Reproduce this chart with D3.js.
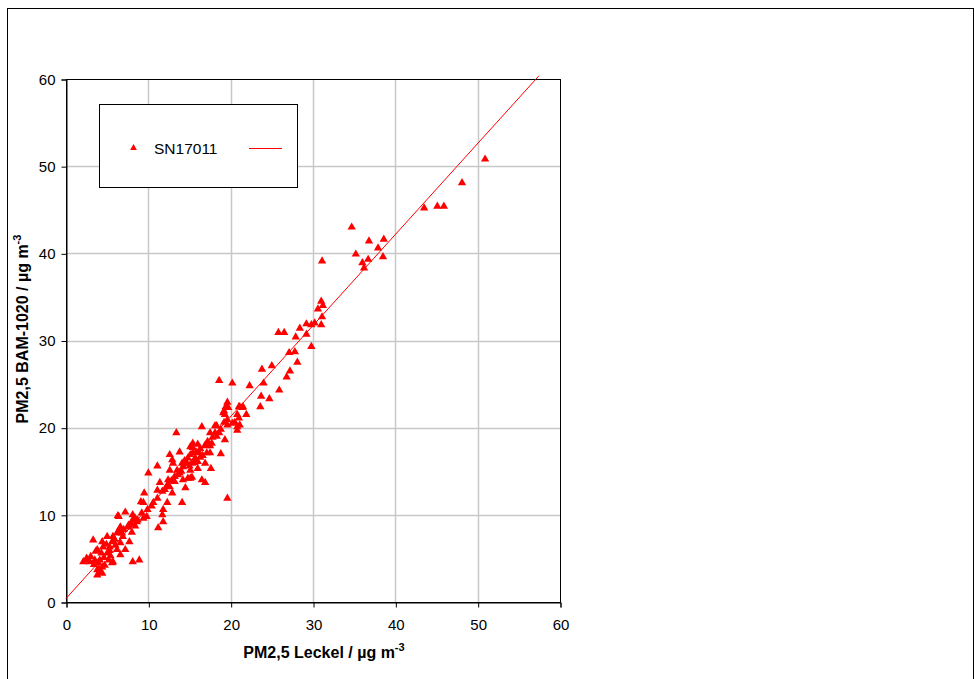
<!DOCTYPE html>
<html><head><meta charset="utf-8">
<script src="https://cdn.jsdelivr.net/npm/d3@7"></script>
<style>body{margin:0;background:#fff;}svg{display:block;font-family:"Liberation Sans",Arial,sans-serif;}</style>
</head><body>
<svg id="chart" width="974" height="679"></svg>
<script>
const seriesName = "SN17011";
const xTicks = [0,10,20,30,40,50,60];
const yTicks = [0,10,20,30,40,50,60];
const trendSlope = 1.044;
const trendIntercept = 0.4;
const trendXRange = [0, 57.45];
const xLabel = "PM2,5 Leckel / µg m";
const yLabel = "PM2,5 BAM-1020 / µg m";
const unitSup = "-3";
const leckel = [
50.9,48.1,45.9,45.1,43.5,34.7,36.8,38.6,35.2,37.9,36.0,36.7,36.2,38.5,31.1,
25.8,26.5,28.4,29.2,30.2,29.8,31.0,31.1,30.6,31.0,31.2,29.2,27.9,29.8,27.1,27.8,28.1,27.2,26.8,23.8,25.0,25.9,24.0,22.3,23.7,24.7,23.6,21.1,21.5,20.2,18.6,
19.6,19.4,19.2,19.1,19.3,21.0,21.4,20.8,21.0,20.5,19.6,19.2,19.6,18.1,16.5,20.8,21.1,19.7,20.2,20.8,18.3,18.8,18.1,18.6,17.5,19.3,13.4,17.2,17.7,17.5,16.9,16.0,15.4,15.1,15.4,16.3,13.8,17.5,17.1,18.8,15.4,15.1,14.8,15.7,16.3,14.7,15.3,16.0,16.9,12.6,12.9,13.0,14.1,14.2,13.5,15.1,16.0,17.6,11.1,12.6,15.1,15.3,14.8,14.2,16.5,16.9,13.2,12.4,12.3,11.4,12.6,14.5,11.1,11.7,12.9,19.6,21.9,
10.0,9.5,9.1,9.4,7.2,6.4,8.1,8.4,9.4,8.6,11.8,11.2,6.6,12.3,11.8,11.7,14.1,11.1,10.6,
6.3,9.2,8.1,8.7,9.8,6.6,7.5,6.2,8.0,5.0,5.7,6.9,3.3,4.4,5.6,7.7,6.6,3.8,4.5,5.3,6.2,7.2,5.0,4.3,6.6,2.6,2.1,2.9,3.5,4.1,5.2,5.7,4.7,4.4,3.8,5.6,8.1,8.9,3.8,4.1,
2.5,3.0,3.4,3.9,4.6,5.4,6.0,6.8,7.0,5.9,4.9,3.6,4.0,4.4,6.4,7.9,8.4,5.3,
13.8,14.0,15.6,16.2,16.6,17.0,15.8,14.4,13.2,12.8,17.8,18.3,15.0,10.4,9.9,7.6,12.0,13.6
];
const bam = [
50.8,48.1,45.4,45.4,45.2,43.0,41.4,41.6,39.9,40.6,38.9,39.3,38.3,39.6,39.1,
30.9,30.9,31.4,31.9,32.0,31.8,31.8,32.7,33.6,34.5,34.0,30.7,30.4,29.3,28.6,28.7,27.5,26.5,25.8,26.7,27.1,24.3,25.1,24.8,23.6,23.3,22.4,22.4,22.4,25.1,25.4,
22.9,22.4,21.9,21.7,21.5,22.4,22.3,21.5,21.1,20.6,20.9,20.6,20.3,20.2,20.1,20.1,20.3,22.3,20.5,19.7,20.2,19.8,19.4,19.4,19.4,18.6,19.4,18.4,18.2,17.9,18.0,18.1,18.2,17.8,17.7,17.6,17.2,17.1,17.1,17.0,17.1,16.9,16.5,16.5,16.6,15.9,15.9,16.1,15.9,16.9,16.3,15.9,15.9,15.5,15.1,15.1,15.3,15.3,15.6,15.1,14.2,14.3,14.2,14.0,14.0,13.7,13.8,14.0,13.4,13.7,13.2,13.1,12.8,12.7,12.5,11.9,21.5,
14.8,12.5,11.5,11.4,10.3,9.8,10.0,9.6,9.6,9.2,9.2,8.5,8.5,11.4,10.6,10.0,11.4,11.9,11.4,
9.9,10.2,9.4,9.4,9.8,8.6,8.6,7.9,8.0,7.5,7.5,7.5,7.1,6.9,6.9,6.9,6.8,6.0,6.3,6.3,6.0,6.0,5.6,5.6,5.4,4.8,4.6,4.6,4.8,4.8,4.8,4.6,4.2,4.0,3.7,4.5,4.6,4.8,3.1,3.4,
5.0,5.2,4.3,4.5,5.1,5.3,6.5,7.9,8.3,7.2,6.6,5.8,3.8,3.3,8.2,9.0,8.7,5.9,
14.8,15.0,16.0,17.1,16.8,17.9,17.2,16.2,14.4,13.9,18.9,19.0,15.6,11.0,10.6,8.8,12.9,14.6
];

const svg = d3.select("#chart");
// outer frame
svg.append("rect").attr("x",7.5).attr("y",8.5).attr("width",966).attr("height",680)
  .attr("fill","#fff").attr("stroke","#000").attr("stroke-width",1);

const m = {left:66, top:79, right:560, bottom:602};
const x = d3.scaleLinear().domain([0,60]).range([m.left, m.right]);
const y = d3.scaleLinear().domain([0,60]).range([m.bottom, m.top]);

// gridlines
const g = svg.append("g");
g.selectAll("line.vg").data(xTicks.slice(1,-1)).join("line")
  .attr("x1",d=>Math.round(x(d))+0.5).attr("x2",d=>Math.round(x(d))+0.5)
  .attr("y1",m.top).attr("y2",m.bottom).attr("stroke","#c8c8c8").attr("stroke-width",1.5);
g.selectAll("line.hg").data(yTicks.slice(1,-1)).join("line")
  .attr("y1",d=>Math.round(y(d))+0.5).attr("y2",d=>Math.round(y(d))+0.5)
  .attr("x1",m.left).attr("x2",m.right).attr("stroke","#c8c8c8").attr("stroke-width",1.5);

// plot border
svg.append("rect").attr("x",m.left+0.5).attr("y",m.top+0.5)
  .attr("width",m.right-m.left).attr("height",m.bottom-m.top)
  .attr("fill","none").attr("stroke","#000").attr("stroke-width",1);

// axes
const xAxis = d3.axisBottom(x).tickValues(xTicks).tickSize(5).tickPadding(12);
const yAxis = d3.axisLeft(y).tickValues(yTicks).tickSize(5).tickPadding(6);
const gx = svg.append("g").attr("transform",`translate(0.5,${m.bottom+0.5})`).call(xAxis);
const gy = svg.append("g").attr("transform",`translate(${m.left+0.5},0.5)`).call(yAxis);
[gx,gy].forEach(a=>{
  a.select(".domain").attr("stroke","#000");
  a.selectAll(".tick line").attr("stroke","#000");
  a.selectAll("text").attr("font-size",15).attr("fill","#000").attr("font-family","Liberation Sans, Arial, sans-serif");
});

// trend line
svg.append("line")
  .attr("x1",x(trendXRange[0])).attr("y1",y(trendIntercept+trendSlope*trendXRange[0]))
  .attr("x2",x(trendXRange[1])).attr("y2",y(trendIntercept+trendSlope*trendXRange[1]))
  .attr("stroke","#ff0000").attr("stroke-width",1);

// points
const pts = leckel.map((v,i)=>[v,bam[i]]);
const tri = d3.symbol().type(d3.symbolTriangle).size(30);
svg.append("g").selectAll("path").data(pts).join("path")
  .attr("d",tri).attr("transform",d=>`translate(${x(d[0])},${y(d[1])})`)
  .attr("fill","#ff0000");

// axis titles
const xt = svg.append("text").attr("x",324).attr("y",658)
  .attr("text-anchor","middle").attr("font-size",16).attr("font-weight","bold");
xt.append("tspan").text(xLabel);
xt.append("tspan").attr("dy",-7).attr("font-size",11).text(unitSup);

const yt = svg.append("text").attr("transform",`translate(28,329) rotate(-90)`)
  .attr("text-anchor","middle").attr("font-size",16).attr("font-weight","bold");
yt.append("tspan").text(yLabel);
yt.append("tspan").attr("dy",-7).attr("font-size",11).text(unitSup);

// legend
const lg = svg.append("g");
lg.append("rect").attr("x",99.5).attr("y",104.5).attr("width",198).attr("height",83)
  .attr("fill","#fff").attr("stroke","#000").attr("stroke-width",1);
lg.append("path").attr("d",d3.symbol().type(d3.symbolTriangle).size(20))
  .attr("transform","translate(133.5,148)").attr("fill","#ff0000");
lg.append("text").attr("x",154).attr("y",154).attr("font-size",15.5).text(seriesName);
lg.append("line").attr("x1",249).attr("x2",282).attr("y1",148.5).attr("y2",148.5)
  .attr("stroke","#ff0000").attr("stroke-width",1);
</script>
</body></html>
